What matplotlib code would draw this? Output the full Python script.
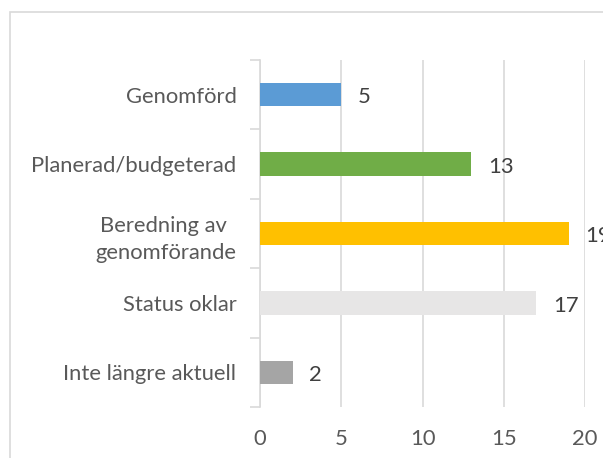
import matplotlib
matplotlib.use("Agg")
import matplotlib.pyplot as plt
from matplotlib.patches import Rectangle

categories = ["Genomförd", "Planerad/budgeterad", "Beredning av \ngenomförande", "Status oklar", "Inte längre aktuell"]
values = [5, 13, 19, 17, 2]
colors = ["#5B9BD5", "#70AD47", "#FFC000", "#E7E6E6", "#A5A5A5"]
xticks = [0, 5, 10, 15, 20]

plt.rcParams['font.family'] = ['Lato', 'DejaVu Sans']
FS = 15.8
W, H = 603, 458
fig = plt.figure(figsize=(W/100, H/100), dpi=100)
fig.patch.set_facecolor("white")

# outer chart frame (cropped at right and bottom)
fig.patches.append(Rectangle((10/W, -0.1), 1.2, (H-12)/H + 0.1, transform=fig.transFigure,
                             fill=False, edgecolor="#D9D9D9", linewidth=1.2))

ax = fig.add_axes([260/W, 1-407/H, (585-260)/W, (407-60)/H])
ypos = list(range(len(categories)))
ax.barh(ypos, values, height=0.34, color=colors, zorder=3)
ax.set_ylim(len(categories)-0.5, -0.5)
ax.set_xlim(0, 20)
ax.set_xticks(xticks)
ax.set_xticklabels([str(t) for t in xticks])
ax.set_yticks(ypos)
ax.set_yticklabels(categories, multialignment="center", linespacing=1.45)
ax.xaxis.grid(True, color="#D9D9D9", linewidth=1.2, zorder=0)
for s in ["top", "right", "bottom"]:
    ax.spines[s].set_visible(False)
ax.spines["left"].set_color("#D9D9D9")
ax.spines["left"].set_linewidth(1.2)
ax.tick_params(axis="x", length=0, pad=16, labelsize=FS, labelcolor="#595959")
ax.tick_params(axis="y", length=0, pad=17, labelsize=FS, labelcolor="#595959")
# minor ticks at category boundaries
ax.set_yticks([i - 0.5 for i in range(len(categories)+1)], minor=True)
ax.tick_params(axis="y", which="minor", length=7, color="#D9D9D9", width=1.2, direction="out")

for y, v in zip(ypos, values):
    ax.annotate(str(v), xy=(v, y), xytext=(12, -2), textcoords="offset points",
                va="center", ha="left", fontsize=FS, color="#404040", annotation_clip=False)

fig.savefig("out.png", dpi=100)
